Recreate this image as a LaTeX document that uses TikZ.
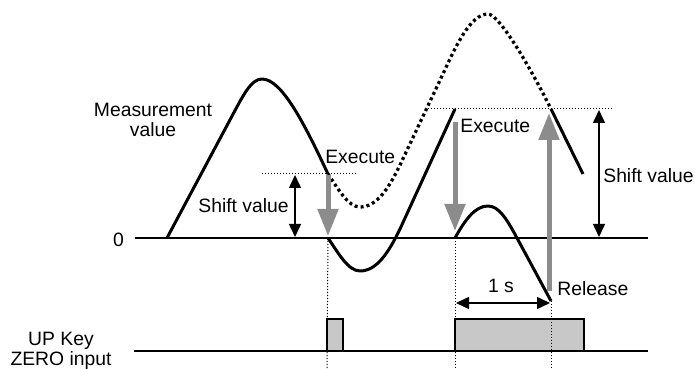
\documentclass[tikz,border=0pt]{standalone}
\usepackage{fontspec}
\setmainfont{Liberation Sans}
\usetikzlibrary{arrows.meta}
\definecolor{arrowgray}{HTML}{8C8C8C}
\definecolor{pulsegray}{HTML}{C8C8C8}

\begin{document}
\begin{tikzpicture}[x=0.2mm,y=-0.2mm,
	txt/.style={font=\fontsize{11}{11.7}\selectfont,inner sep=0pt},
	curve/.style={line width=0.6mm,line join=round},
	ghost/.style={line width=0.65mm,dash pattern=on 0.6mm off 0.6mm},
	axis/.style={line width=0.4mm},
	guide/.style={line width=0.2mm,dash pattern=on 0.25mm off 0.35mm},
	grayarrow/.style={draw=arrowgray,line width=1mm,-{Triangle[width=4mm,length=5.4mm]}},
	shiftarrow/.style={line width=0.3mm,{Triangle[width=2.4mm,length=2.6mm]}-{Triangle[width=2.4mm,length=2.6mm]}},
	pulse/.style={fill=pulsegray,draw,line width=0.4mm}]
	 \useasboundingbox (0,0) rectangle (695,369);
	 %\draw[color=gray,step=10,help lines,opacity=0.3] (0,0) grid (695,369); %help grid
	 % points of the chart
	 \coordinate (start) at (167,238);
	 \coordinate (exeA) at (328,174);
	 \coordinate (zeroA) at (328,238);
	 \coordinate (exeB) at (455,109);
	 \coordinate (zeroB) at (455,238);
	 \coordinate (rel) at (551,301);
	 \coordinate (back) at (551,109);
	 \coordinate (fin) at (583,174);
	 % labels
	 \node[txt,align=center] (meas) at (153,120) {Measurement\\value};
	 \node[txt] (zero) at (118.5,240) {0};
	 \node[txt] (shiftA) at (243.5,205.5) {Shift value};
	 \node[txt,anchor=west] (execA) at (325,156.5) {Execute};
	 \node[txt,anchor=west] (execB) at (460,126) {Execute};
	 \node[txt,anchor=west] (shiftB) at (603,175.5) {Shift value};
	 \node[txt] (onesec) at (501,286) {1 s};
	 \node[txt,anchor=west] (release) at (557,288.5) {Release};
	 \node[txt,align=center] (upkey) at (61,351) {UP Key\\ZERO input};
	 % axes
	 \draw[axis] (135,238) -- (648,238);
	 \draw[pulse] (327,351) rectangle (343,319);
	 \draw[pulse] (455,351) rectangle (584,319);
	 \draw[axis] (134,351) -- (648,351);
	 % thin guides
	 \draw[guide] (262,174) -- (356,174);
	 \draw[guide] (425,109) -- (612,109);
	 \draw[guide] (zeroA) -- (327,369);
	 \draw[guide] (zeroB) -- (455,369);
	 \draw[guide] (rel) -- (551,369);
	 % measurement without shift
	 \draw[ghost] (exeA) .. controls (338,188.5) and (348,207) .. (360,207)
		.. controls (376,207) and (388,190) .. (400,165) -- (442,76)
		.. controls (455,48) and (470,14) .. (488,14)
		.. controls (499,14) and (530,67) .. (back);
	 % displayed value
	 \draw[curve] (start) -- (231,118) .. controls (243,95.6) and (251,79) .. (262,79)
		.. controls (282,79) and (305,125) .. (exeA);
	 \draw[curve] (zeroA) .. controls (338,252.5) and (348,271) .. (360,271)
		.. controls (376,271) and (388,254) .. (400,229) -- (exeB);
	 \draw[curve] (zeroB) .. controls (465,220) and (475,206) .. (488,206)
		.. controls (499,206) and (507,219.5) .. (517,238) -- (rel);
	 \draw[curve] (back) -- (fin);
	 % arrows
	 \coordinate (gA1) at (328,175); \coordinate (gA2) at (328,236);
	 \coordinate (gB1) at (455,122); \coordinate (gB2) at (455,231);
	 \coordinate (gC1) at (549,291); \coordinate (gC2) at (549,113);
	 \draw[grayarrow] (gA1) -- (gA2);
	 \draw[grayarrow] (gB1) -- (gB2);
	 \draw[grayarrow] (gC1) -- (gC2);
	 \coordinate (sA1) at (295,175); \coordinate (sA2) at (295,237);
	 \coordinate (sB1) at (599,110); \coordinate (sB2) at (599,237);
	 \coordinate (t1) at (456,303); \coordinate (t2) at (550,303);
	 \draw[shiftarrow] (sA1) -- (sA2);
	 \draw[shiftarrow] (sB1) -- (sB2);
	 \draw[shiftarrow] (t1) -- (t2);
\end{tikzpicture}
\end{document}
